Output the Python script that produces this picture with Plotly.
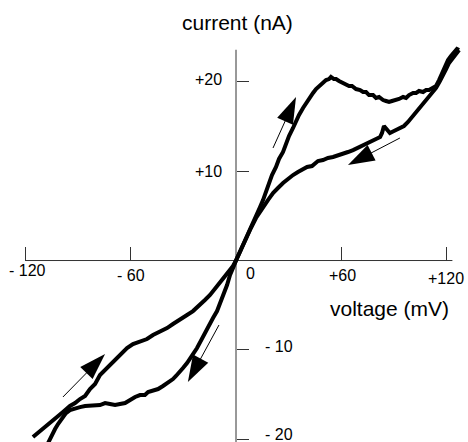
import plotly.graph_objects as go

# ---- data (voltage in mV, current in nA) ----
FWD_V = [-115.7, -110.0, -106.0, -102.0, -98.6, -94.6, -91.7, -88.9, -86.0, -83.2,
         -80.3, -77.5, -74.6, -71.8, -68.9, -66.1, -62.1, -58.7, -54.7, -50.7,
         -47.3, -43.3, -39.3, -35.9, -31.9, -27.9, -24.5, -20.5, -17.7, -14.8,
         -12.0, -9.1, -5.7, -1.7, 0,
         2.8, 5.7, 8.5, 11.4, 13.7, 15.4, 17.1, 18.8, 20.5, 22.8,
         24.5, 26.8, 28.5, 30.2, 32.5, 34.2, 35.9, 38.2, 39.9, 42.2,
         43.9, 45.6, 47.3, 49.0, 51.3, 53.0, 54.1, 55.8, 57.0, 58.7,
         61.0, 62.7, 64.4, 66.1, 68.4, 70.7, 72.4, 74.1, 75.8, 78.1,
         79.8, 81.5, 83.8, 85.5, 87.2, 88.9, 91.2, 92.9, 95.2, 96.9,
         98.6, 100.9, 102.6, 104.3, 106.6, 108.3, 110.0, 112.3, 114.0, 115.7,
         116.8, 117.9, 119.7, 120.8, 122.5, 123.6, 124.8, 125.9, 127.1]
FWD_I = [-19.76, -18.87, -18.2, -17.53, -16.97, -16.29, -15.96, -15.51, -15.17, -14.39,
         -13.83, -12.82, -12.26, -11.70, -11.14, -10.58, -9.80, -9.35, -9.01, -8.79,
         -8.34, -8.01, -7.56, -7.11, -6.66, -6.10, -5.66, -4.98, -4.42, -3.86,
         -3.19, -2.41, -1.62, -0.62, 0,
         1.18, 2.41, 3.64, 4.87, 5.99, 6.77, 7.78, 8.68, 9.57, 10.47,
         11.37, 12.15, 13.05, 13.94, 14.84, 15.62, 16.29, 17.08, 17.64, 18.31,
         18.76, 19.20, 19.54, 19.76, 20.21, 20.32, 20.55, 20.32, 20.32, 20.10,
         19.88, 19.65, 19.54, 19.54, 19.20, 19.09, 18.87, 18.87, 18.53, 18.53,
         18.20, 18.31, 17.97, 17.86, 17.75, 17.86, 17.97, 18.09, 18.31, 18.20,
         18.53, 18.76, 18.76, 18.98, 18.87, 19.09, 19.09, 19.32, 19.54, 20.21,
         20.66, 21.33, 21.89, 22.45, 22.90, 23.12, 23.46, 23.68, 23.57]

RET_V = [127.1, 125.4, 123.1, 121.4, 119.7, 117.9, 116.2, 114.0, 111.7, 109.4,
         107.1, 104.8, 102.6, 100.3, 98.0, 95.7, 92.9, 90.0, 87.7, 86.0,
         84.3, 83.2, 82.1, 79.8, 77.5, 74.6, 72.4, 69.5, 66.7, 63.8,
         61.0, 58.1, 55.3, 52.4, 49.6, 46.7, 45.0, 43.3, 40.5, 38.2,
         35.3, 32.5, 29.6, 26.8, 23.9, 21.1, 18.2, 15.4, 13.1, 11.4,
         8.5, 5.7, 2.8, 0,
         -1.7, -3.4, -5.1, -6.8, -9.1, -10.8, -13.1, -14.8, -16.5, -18.8,
         -20.5, -22.2, -24.5, -26.2, -27.9, -30.2, -31.9, -34.2, -35.9, -38.7,
         -41.6, -44.4, -47.3, -50.1, -51.9, -54.7, -57.5, -60.4, -63.2, -66.1,
         -68.9, -71.8, -74.6, -77.5, -80.3, -83.2, -86.0, -88.9, -91.7, -94.6,
         -96.9, -99.1, -101.4, -103.1, -104.8, -107.1, -108.5]
RET_I = [23.57, 23.12, 22.68, 22.12, 21.44, 20.66, 20.10, 19.32, 18.76, 18.20,
         17.64, 17.08, 16.52, 15.96, 15.51, 15.06, 14.72, 14.50, 14.28, 14.61,
         15.06, 14.28, 13.83, 13.61, 13.38, 13.05, 12.82, 12.60, 12.37, 12.15,
         11.93, 11.70, 11.59, 11.48, 11.25, 11.14, 10.81, 10.58, 10.47, 10.25,
         9.91, 9.57, 9.13, 8.68, 8.12, 7.56, 6.77, 5.99, 5.32, 4.76,
         3.64, 2.52, 1.29, 0,
         -0.84, -1.62, -2.74, -3.53, -4.76, -5.66, -6.44, -7.11, -7.78, -8.57,
         -9.13, -9.80, -10.47, -11.03, -11.48, -12.04, -12.49, -12.93, -13.27, -13.72,
         -14.05, -14.39, -14.61, -14.72, -15.06, -15.06, -15.28, -15.62, -15.96, -16.07,
         -16.18, -16.07, -15.96, -16.18, -16.18, -16.18, -16.29, -16.41, -16.63, -16.74,
         -17.08, -17.64, -18.31, -18.87, -19.54, -20.32, -21.0]

# direction arrows (tail -> tip)
ARROW_TAIL_V = [21.1, 93.4, -98.6, -9.7]
ARROW_TAIL_I = [12.60, 13.72, -15.28, -7.22]
ARROW_TIP_V = [34.2, 63.8, -74.6, -27.4]
ARROW_TIP_I = [18.31, 10.69, -10.47, -13.61]

# axes
X_AXIS_SPAN = [-120, 123.3]
Y_AXIS_SPAN = [-21.0, 23.6]
X_TICKS = [-120, -60, 60, 120]
X_TICK_LABELS = ["- 120", "- 60", "+60", "+120"]
Y_TICKS = [20, 10, -10, -20]
Y_TICK_LABELS = ["+20", "+10", "- 10", "- 20"]
X_TITLE = "voltage (mV)"
Y_TITLE = "current (nA)"

FONT = "Liberation Sans, Arial, Helvetica, sans-serif"

fig = go.Figure()

# axis lines
fig.add_trace(go.Scatter(x=X_AXIS_SPAN, y=[0, 0], mode="lines",
                         line=dict(color="#333", width=1), hoverinfo="skip"))
fig.add_trace(go.Scatter(x=[0, 0], y=Y_AXIS_SPAN, mode="lines",
                         line=dict(color="#333", width=1), hoverinfo="skip"))

# I-V loop
for xs, ys in ((FWD_V, FWD_I), (RET_V, RET_I)):
    fig.add_trace(go.Scatter(x=xs, y=ys, mode="lines",
                             line=dict(color="black", width=4)))

# arrows
for tv, ti, hv, hi in zip(ARROW_TAIL_V, ARROW_TAIL_I, ARROW_TIP_V, ARROW_TIP_I):
    fig.add_trace(go.Scatter(
        x=[tv, hv], y=[ti, hi], mode="lines+markers",
        line=dict(color="black", width=1),
        marker=dict(symbol="arrow", size=[0, 28], angleref="previous",
                    color="black", opacity=1, line=dict(width=0, color="black")),
    ))

annotations = []
# x tick labels
x_shifts = [2.5, 0, 0.7, -0.6]
y_shifts = [-9.5, -14.5, -14.5, -17.5]
for v, lab, xs, ys in zip(X_TICKS, X_TICK_LABELS, x_shifts, y_shifts):
    annotations.append(dict(x=v, y=0, xref="x", yref="y", text=lab, showarrow=False,
                            xanchor="center", yanchor="middle", xshift=xs, yshift=ys,
                            font=dict(size=16, color="black", family=FONT)))
annotations.append(dict(x=0, y=0, xref="x", yref="y", text="0", showarrow=False,
                        xanchor="center", yanchor="middle", xshift=14, yshift=-12.5,
                        font=dict(size=16, color="black", family=FONT)))
# y tick labels
for v, lab in zip(Y_TICKS, Y_TICK_LABELS):
    if v > 0:
        annotations.append(dict(x=0, y=v, xref="x", yref="y", text=lab, showarrow=False,
                                xanchor="right", yanchor="middle", xshift=-12,
                                yshift=2 if v == 20 else 0,
                                font=dict(size=16, color="black", family=FONT)))
    else:
        annotations.append(dict(x=0, y=v, xref="x", yref="y", text=lab, showarrow=False,
                                xanchor="left", yanchor="middle", xshift=27,
                                yshift=3 if v == -10 else 5,
                                font=dict(size=16, color="black", family=FONT)))
# axis titles
annotations.append(dict(x=0, y=26.7, xref="x", yref="y", text=Y_TITLE, showarrow=False,
                        xanchor="center", yanchor="middle", xshift=1,
                        font=dict(size=21, color="black", family=FONT)))
annotations.append(dict(x=122.5, y=-5.32, xref="x", yref="y", text=X_TITLE, showarrow=False,
                        xanchor="right", yanchor="middle",
                        font=dict(size=21, color="black", family=FONT)))

fig.update_layout(
    width=468, height=442, autosize=False,
    margin=dict(l=0, r=0, t=0, b=0),
    paper_bgcolor="white", plot_bgcolor="white",
    showlegend=False,
    annotations=annotations,
    xaxis=dict(range=[-134.47, 132.19], domain=[0, 1], anchor="free", position=0.4106,
               showgrid=False, zeroline=False, showline=False,
               ticks="inside", ticklen=14, tickwidth=1, tickcolor="#333",
               tickvals=X_TICKS, showticklabels=False, fixedrange=True),
    yaxis=dict(range=[-20.32, 29.17], domain=[0, 1], anchor="free", position=0.5043,
               showgrid=False, zeroline=False, showline=False,
               ticks="inside", ticklen=12, tickwidth=1, tickcolor="#333",
               tickvals=Y_TICKS, showticklabels=False, fixedrange=True),
)

fig.write_html("out.html")
